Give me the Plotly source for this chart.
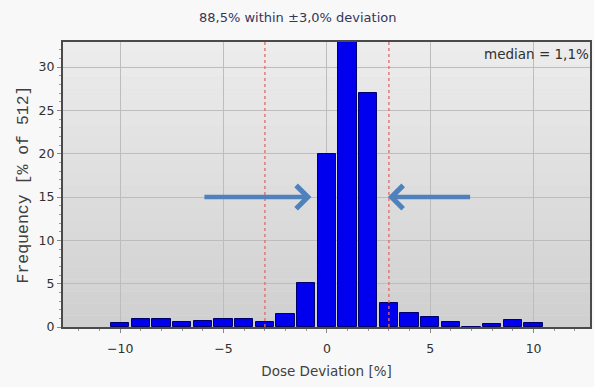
import plotly.graph_objects as go

# Data
deviation_bins = [-10, -9, -8, -7, -6, -5, -4, -3, -2, -1, 0, 1, 2, 3, 4, 5, 6, 7, 8, 9, 10]
frequency_pct = [0.42, 0.97, 0.97, 0.56, 0.75, 0.97, 0.97, 0.63, 1.45, 5.05, 20.0, 33.5,
                 27.0, 2.8, 1.58, 1.2, 0.6, 0.0, 0.4, 0.8, 0.42]
tolerance_lines = [-3, 3]
x_ticks = [-10, -5, 0, 5, 10]
y_ticks = [0, 5, 10, 15, 20, 25, 30]
title_text = "88,5% within ±3,0% deviation"
median_text = "median = 1,1%"
arrow_left = dict(tip=(-0.75, 15), tail=(-6.0, 15))
arrow_right = dict(tip=(2.95, 15), tail=(7.0, 15))

TXT = "#404040"
FONT = "DejaVu Sans"

fig = go.Figure()
fig.add_trace(go.Bar(
    x=deviation_bins, y=frequency_pct, width=0.88,
    marker=dict(color="#0000ee", line=dict(color="#00006a", width=1)),
    hoverinfo="x+y",
))

shapes = []
# vertical background gradient
n = 24
top_rgb = (236, 236, 236)
bot_rgb = (208, 208, 208)
for i in range(n):
    t = i / (n - 1)
    c = tuple(int(round(bot_rgb[k] + (top_rgb[k] - bot_rgb[k]) * t)) for k in range(3))
    shapes.append(dict(type="rect", xref="x domain", yref="y domain",
                       x0=0, x1=1, y0=i / n, y1=(i + 1) / n,
                       fillcolor="rgb(%d,%d,%d)" % c, line=dict(width=0), layer="below"))
for xv in tolerance_lines:
    shapes.append(dict(type="line", xref="x", yref="y domain", x0=xv, x1=xv, y0=0, y1=1,
                       line=dict(color="#e06a6a", width=1.3, dash="dot"), layer="above"))

annotations = [
    dict(text=title_text, xref="paper", yref="paper", x=(298 - 63) / 529, y=1 + 24 / 285,
         xanchor="center", yanchor="middle", showarrow=False,
         font=dict(family=FONT, size=13, color="#35355a")),
    dict(text=median_text, xref="paper", yref="paper", x=1 + 1 / 529, y=1 - 2 / 285,
         xanchor="right", yanchor="top", showarrow=False,
         font=dict(family=FONT, size=13.5, color="#303030")),
]
for a in (arrow_left, arrow_right):
    annotations.append(dict(x=a["tip"][0], y=a["tip"][1], ax=a["tail"][0], ay=a["tail"][1],
                            xref="x", yref="y", axref="x", ayref="y", text="",
                            showarrow=True, arrowhead=4, arrowsize=1.0, arrowwidth=4.5,
                            arrowcolor="#4f81bd", standoff=0))

fig.update_layout(
    width=594, height=387,
    margin=dict(l=63, r=2, t=42, b=60),
    paper_bgcolor="#f8f8f8", plot_bgcolor="#dedede",
    showlegend=False, bargap=0,
    shapes=shapes, annotations=annotations,
    font=dict(family=FONT, size=12, color=TXT),
)

fig.update_xaxes(
    range=[-12.77, 12.73], tickvals=x_ticks, ticks="outside", ticklen=4, tickcolor="#888",
    showgrid=True, gridcolor="#bdbdbd", gridwidth=1, zeroline=False,
    showline=True, linecolor="#4a4a4a", linewidth=2, mirror=True,
    minor=dict(dtick=1, ticks="outside", ticklen=2, tickcolor="#999", showgrid=False),
    ticklabelstandoff=5,
    title=dict(text="Dose Deviation [%]", font=dict(family=FONT, size=13.5, color=TXT), standoff=12),
    tickfont=dict(family=FONT, size=12.5, color="#303030"),
)
fig.update_yaxes(
    range=[0, 32.9], tickvals=y_ticks, ticks="outside", ticklen=4, tickcolor="#888",
    showgrid=True, gridcolor="#bdbdbd", gridwidth=1, zeroline=False,
    showline=True, linecolor="#4a4a4a", linewidth=2, mirror=True,
    minor=dict(dtick=1, ticks="outside", ticklen=2, tickcolor="#999", showgrid=False),
    ticklabelstandoff=0,
    title=dict(text="Frequency [% of 512]", font=dict(family="Liberation Mono", size=16.5, color=TXT), standoff=6),
    tickfont=dict(family=FONT, size=12.5, color="#303030"),
)

fig.write_html("out.html", config={"displayModeBar": False},
               post_script="document.body.style.margin='0';document.body.style.overflow='hidden';")
